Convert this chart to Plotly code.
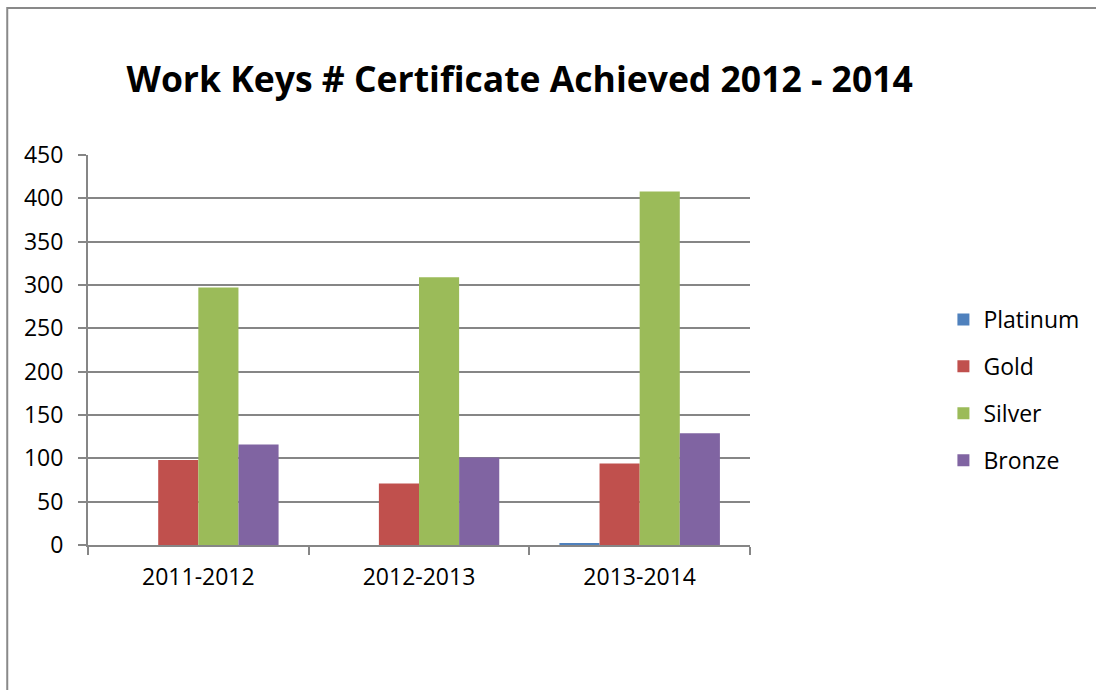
import plotly.graph_objects as go

categories = ["2011-2012", "2012-2013", "2013-2014"]
platinum = [0, 0, 2]
gold = [98, 71, 94]
silver = [297, 309, 408]
bronze = [116, 101, 129]

series = [
    ("Platinum", platinum, "#4F81BD"),
    ("Gold", gold, "#C0504D"),
    ("Silver", silver, "#9BBB59"),
    ("Bronze", bronze, "#8064A2"),
]

FONT = "Open Sans"
fig = go.Figure()
for name, vals, color in series:
    fig.add_trace(go.Bar(
        x=categories, y=vals, name=name, legendgroup=name,
        marker=dict(color=color, line=dict(width=0)),
    ))

L, R, T, B = 88, 344, 155, 145
PW, PH = 1096 - L - R, 690 - T - B

def px_x(p):
    return (p - L) / PW

def px_y(p):
    return (690 - B - p) / PH

fig.update_layout(
    width=1096, height=690,
    margin=dict(l=L, r=R, t=T, b=B, pad=0),
    paper_bgcolor="white", plot_bgcolor="white",
    barmode="group", bargap=0.2727, bargroupgap=0,
    title=dict(text="<b>Work Keys # Certificate Achieved 2012 - 2014</b>",
               x=px_x(521), xref="paper", xanchor="center",
               y=1 - 80 / 690, yanchor="middle",
               font=dict(family=FONT, size=35.5, color="black")),
    font=dict(family=FONT, size=23, color="black"),
    legend=dict(x=px_x(946), xanchor="left", y=px_y(390), yanchor="middle",
                font=dict(family=FONT, size=23, color="black"),
                traceorder="grouped", tracegroupgap=14,
                bgcolor="rgba(0,0,0,0)"),
    showlegend=True,
    xaxis=dict(
        showline=True, linecolor="#868686", linewidth=2,
        ticks="outside", tickson="boundaries", ticklen=8, tickcolor="#868686", tickwidth=2,
        tickfont=dict(family=FONT, size=23, color="black"),
        ticklabelstandoff=10,
        showgrid=False,
    ),
    yaxis=dict(
        range=[0, 450], tickvals=list(range(0, 451, 50)),
        showline=True, linecolor="#868686", linewidth=2,
        ticks="outside", ticklen=8, tickcolor="#868686", tickwidth=2,
        showgrid=True, gridcolor="#868686", gridwidth=2,
        zeroline=False,
        ticklabelstandoff=10,
        tickfont=dict(family=FONT, size=23, color="black"),
    ),
    shapes=[dict(type="rect", xref="paper", yref="paper",
                 x0=px_x(7), x1=px_x(1110), y0=px_y(710), y1=px_y(8),
                 line=dict(color="#898989", width=2), fillcolor="rgba(0,0,0,0)",
                 layer="below")],
)

fig.write_html("out.html")
